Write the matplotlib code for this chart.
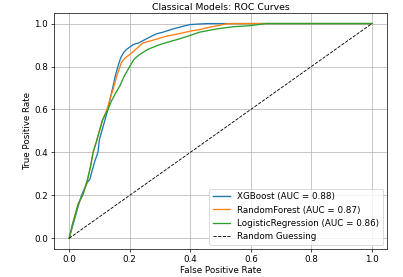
import matplotlib.pyplot as plt

# ROC points
xgb_fpr = [0.0, 0.01, 0.02, 0.03, 0.04, 0.05, 0.06, 0.068, 0.075, 0.085, 0.095, 0.10, 0.11, 0.12, 0.128,
           0.137, 0.145, 0.153, 0.161, 0.17, 0.18, 0.189, 0.20, 0.211, 0.23, 0.25, 0.27, 0.288,
           0.31, 0.343, 0.37, 0.398, 0.43, 0.46, 0.55, 0.7, 1.0]
xgb_tpr = [0.0, 0.05, 0.10, 0.15, 0.197, 0.23, 0.26, 0.274, 0.31, 0.36, 0.40, 0.46, 0.51, 0.56, 0.60,
           0.66, 0.708, 0.76, 0.80, 0.84, 0.865, 0.879, 0.89, 0.902, 0.91, 0.925, 0.94, 0.952,
           0.96, 0.975, 0.985, 0.995, 0.998, 1.0, 1.0, 1.0, 1.0]

rf_fpr = [0.0, 0.01, 0.02, 0.03, 0.046, 0.06, 0.07, 0.079, 0.09, 0.10, 0.11, 0.125, 0.135, 0.145,
          0.158, 0.172, 0.185, 0.20, 0.22, 0.244, 0.27, 0.30, 0.321, 0.36, 0.398, 0.43, 0.454,
          0.49, 0.52, 0.6, 0.8, 1.0]
rf_tpr = [0.0, 0.06, 0.11, 0.16, 0.205, 0.27, 0.33, 0.40, 0.45, 0.50, 0.55, 0.60, 0.65, 0.693,
          0.76, 0.817, 0.84, 0.856, 0.88, 0.91, 0.92, 0.932, 0.941, 0.952, 0.964, 0.972, 0.98,
          0.99, 0.999, 1.0, 1.0, 1.0]

lr_fpr = [0.0, 0.01, 0.02, 0.03, 0.046, 0.06, 0.07, 0.079, 0.09, 0.10, 0.11, 0.128, 0.14, 0.155,
          0.167, 0.18, 0.20, 0.215, 0.233, 0.26, 0.299, 0.33, 0.365, 0.40, 0.431, 0.487, 0.54,
          0.597, 0.65, 0.8, 1.0]
lr_tpr = [0.0, 0.06, 0.11, 0.16, 0.205, 0.27, 0.33, 0.40, 0.45, 0.50, 0.55, 0.60, 0.64, 0.68,
          0.708, 0.75, 0.80, 0.835, 0.856, 0.88, 0.902, 0.915, 0.929, 0.945, 0.96, 0.975, 0.985,
          0.99, 1.0, 1.0, 1.0]

models = ["XGBoost", "RandomForest", "LogisticRegression"]
aucs = [0.88, 0.87, 0.86]

fig, ax = plt.subplots(figsize=(6.4, 4.4), dpi=63)

for name, auc, fpr, tpr in zip(models, aucs, [xgb_fpr, rf_fpr, lr_fpr], [xgb_tpr, rf_tpr, lr_tpr]):
    ax.plot(fpr, tpr, label="%s (AUC = %.2f)" % (name, auc))

ax.plot([0, 1], [0, 1], 'k--', lw=1, label="Random Guessing")

ax.set_title("Classical Models: ROC Curves", fontsize=10.5, pad=4)
ax.set_xlabel("False Positive Rate", labelpad=2)
ax.set_ylabel("True Positive Rate", labelpad=2)
ax.legend(loc="lower right")
ax.grid(True)

fig.subplots_adjust(left=0.134, right=0.960, top=0.953, bottom=0.101)
plt.savefig("out.png")
